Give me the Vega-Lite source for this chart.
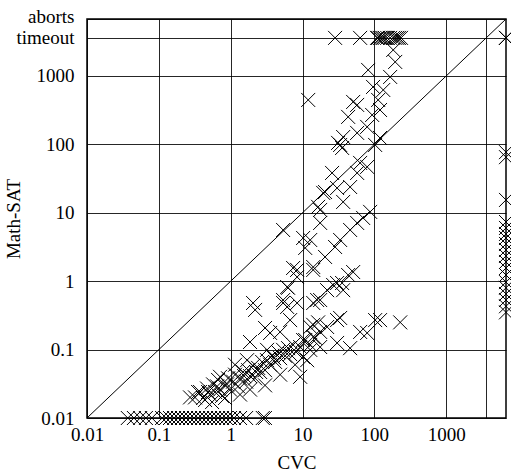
{
  "$schema": "https://vega.github.io/schema/vega-lite/v6.json",
  "autosize": {"type": "none"},
  "padding": {"left": 87, "top": 19, "right": 5, "bottom": 56},
  "width": 419,
  "height": 399,
  "background": "#ffffff",
  "config": {
    "view": {"stroke": "#000000", "strokeWidth": 1.5},
    "axis": {
      "labelFont": "Liberation Serif",
      "labelFontSize": 19,
      "labelColor": "#000000",
      "titleFont": "Liberation Serif",
      "titleFontSize": 19,
      "titleFontWeight": "normal",
      "titleColor": "#000000",
      "gridColor": "#000000",
      "gridOpacity": 0.85,
      "gridWidth": 1,
      "ticks": false,
      "domain": false,
      "labelOverlap": false,
      "labelFlush": false
    }
  },
  "datasets": {
    "diag": [{"c": 0.01, "m": 0.01}, {"c": 6800, "m": 6800}],
    "pts": [
      {"c": 28.4, "m": 3600}, {"c": 63.4, "m": 3600}, {"c": 109, "m": 3600}, {"c": 113, "m": 3600},
      {"c": 120, "m": 3600}, {"c": 126, "m": 3600}, {"c": 133, "m": 3600}, {"c": 140, "m": 3600},
      {"c": 151, "m": 3600}, {"c": 166, "m": 3600}, {"c": 183, "m": 3600}, {"c": 195, "m": 3600},
      {"c": 208, "m": 3600}, {"c": 220, "m": 3600}, {"c": 235, "m": 3600},
      {"c": 6800, "m": 3600}, {"c": 6800, "m": 3600}, {"c": 6800, "m": 3600},
      {"c": 183, "m": 2399}, {"c": 195, "m": 1603}, {"c": 82, "m": 1224}, {"c": 166, "m": 967},
      {"c": 96, "m": 691}, {"c": 133, "m": 624}, {"c": 113, "m": 446}, {"c": 12, "m": 446},
      {"c": 57.6, "m": 377}, {"c": 50.7, "m": 417}, {"c": 43.2, "m": 252}, {"c": 93.2, "m": 269},
      {"c": 120, "m": 318}, {"c": 79.4, "m": 180}, {"c": 57.6, "m": 147}, {"c": 36.8, "m": 128},
      {"c": 31.3, "m": 105}, {"c": 102.6, "m": 98}, {"c": 120, "m": 124}, {"c": 33.4, "m": 98},
      {"c": 35.6, "m": 88.6},
      {"c": 63.4, "m": 53.5}, {"c": 57.6, "m": 38.2}, {"c": 79.4, "m": 46.8}, {"c": 25.8, "m": 38.2},
      {"c": 46.0, "m": 23.8}, {"c": 20.6, "m": 20.1}, {"c": 36.8, "m": 14.4}, {"c": 16.5, "m": 12.2},
      {"c": 17.6, "m": 11.0}, {"c": 87.4, "m": 10.3}, {"c": 69.8, "m": 8.4}, {"c": 57.6, "m": 7.1},
      {"c": 46.0, "m": 5.6}, {"c": 17.6, "m": 7.1}, {"c": 5.37, "m": 5.6}, {"c": 33.4, "m": 4.0},
      {"c": 28.4, "m": 3.16}, {"c": 10.2, "m": 4.28}, {"c": 10.9, "m": 3.06}, {"c": 12.8, "m": 4.0},
      {"c": 20.6, "m": 2.26}, {"c": 14.1, "m": 1.61}, {"c": 7.4, "m": 1.56}, {"c": 43.2, "m": 1.23},
      {"c": 50.7, "m": 1.36}, {"c": 30.3, "m": 23}, {"c": 19.4, "m": 19.5},
      {"c": 8.41, "m": 1.46}, {"c": 6.11, "m": 0.82}, {"c": 5.37, "m": 0.48}, {"c": 8.41, "m": 0.48},
      {"c": 2.05, "m": 0.48}, {"c": 16.0, "m": 0.53}, {"c": 30.3, "m": 0.94}, {"c": 36.8, "m": 0.74},
      {"c": 22.0, "m": 0.74},
      {"c": 14.1, "m": 1.46}, {"c": 35.6, "m": 0.94}, {"c": 26.7, "m": 0.88}, {"c": 17.6, "m": 0.53},
      {"c": 30.3, "m": 0.27}, {"c": 33.4, "m": 0.29}, {"c": 16.5, "m": 0.25}, {"c": 14.1, "m": 0.23},
      {"c": 22.0, "m": 0.214}, {"c": 17.6, "m": 0.181}, {"c": 14.1, "m": 0.153}, {"c": 17.6, "m": 0.109},
      {"c": 12.8, "m": 0.099}, {"c": 10.2, "m": 0.078}, {"c": 11.6, "m": 0.07}, {"c": 9.27, "m": 0.04},
      {"c": 30.3, "m": 0.125}, {"c": 46.0, "m": 0.105}, {"c": 63.4, "m": 0.181}, {"c": 79.4, "m": 0.175},
      {"c": 102.6, "m": 0.27}, {"c": 120, "m": 0.27}, {"c": 229, "m": 0.25},
      {"c": 2.19, "m": 0.38}, {"c": 5.37, "m": 0.53}, {"c": 6.11, "m": 0.42}, {"c": 3.01, "m": 0.207},
      {"c": 3.54, "m": 0.175}, {"c": 4.88, "m": 0.181}, {"c": 6.72, "m": 0.27}, {"c": 1.86, "m": 0.129},
      {"c": 8.41, "m": 1.15}, {"c": 6.3, "m": 0.8}, {"c": 14.1, "m": 0.48}, {"c": 12.8, "m": 0.214},
      {"c": 10.2, "m": 0.138}, {"c": 3.21, "m": 0.099}, {"c": 1.69, "m": 0.07},
      {"c": 0.319, "m": 0.02}, {"c": 0.375, "m": 0.024}, {"c": 0.413, "m": 0.0196}, {"c": 0.469, "m": 0.027},
      {"c": 0.516, "m": 0.022}, {"c": 0.569, "m": 0.031}, {"c": 0.607, "m": 0.024}, {"c": 0.668, "m": 0.036},
      {"c": 0.711, "m": 0.026}, {"c": 0.759, "m": 0.021}, {"c": 0.835, "m": 0.03}, {"c": 0.92, "m": 0.038},
      {"c": 0.982, "m": 0.026}, {"c": 1.08, "m": 0.034}, {"c": 1.15, "m": 0.043}, {"c": 1.27, "m": 0.029},
      {"c": 1.35, "m": 0.038}, {"c": 1.49, "m": 0.047}, {"c": 1.64, "m": 0.034}, {"c": 1.75, "m": 0.05},
      {"c": 1.86, "m": 0.041}, {"c": 2.05, "m": 0.058}, {"c": 2.19, "m": 0.038}, {"c": 2.41, "m": 0.054},
      {"c": 2.57, "m": 0.047}, {"c": 2.74, "m": 0.066}, {"c": 3.01, "m": 0.05}, {"c": 3.21, "m": 0.07},
      {"c": 3.54, "m": 0.06}, {"c": 3.78, "m": 0.081}, {"c": 4.15, "m": 0.066}, {"c": 4.57, "m": 0.092},
      {"c": 4.88, "m": 0.075}, {"c": 5.37, "m": 0.099}, {"c": 5.73, "m": 0.081}, {"c": 6.3, "m": 0.105},
      {"c": 6.72, "m": 0.086}, {"c": 7.4, "m": 0.117}, {"c": 8.15, "m": 0.092}, {"c": 9.27, "m": 0.109},
      {"c": 10.9, "m": 0.138}, {"c": 12.8, "m": 0.117}, {"c": 15.0, "m": 0.148},
      {"c": 0.44, "m": 0.0183}, {"c": 0.551, "m": 0.0171}, {"c": 0.835, "m": 0.0196}, {"c": 1.35, "m": 0.022},
      {"c": 1.86, "m": 0.026}, {"c": 3.01, "m": 0.03}, {"c": 4.88, "m": 0.043}, {"c": 7.89, "m": 0.06},
      {"c": 0.711, "m": 0.04}, {"c": 1.15, "m": 0.06}, {"c": 0.272, "m": 0.02}, {"c": 0.352, "m": 0.024},
      {"c": 0.484, "m": 0.024}, {"c": 0.647, "m": 0.029}, {"c": 0.891, "m": 0.031}, {"c": 1.54, "m": 0.041},
      {"c": 2.26, "m": 0.047}, {"c": 4.02, "m": 0.075},
      {"c": 0.037, "m": 0.01}, {"c": 0.045, "m": 0.01}, {"c": 0.055, "m": 0.01}, {"c": 0.066, "m": 0.01},
      {"c": 0.08, "m": 0.01}, {"c": 0.111, "m": 0.01}, {"c": 0.126, "m": 0.01}, {"c": 0.143, "m": 0.01},
      {"c": 0.163, "m": 0.01}, {"c": 0.185, "m": 0.01}, {"c": 0.21, "m": 0.01}, {"c": 0.239, "m": 0.01},
      {"c": 0.272, "m": 0.01}, {"c": 0.309, "m": 0.01}, {"c": 0.352, "m": 0.01}, {"c": 0.4, "m": 0.01},
      {"c": 0.454, "m": 0.01}, {"c": 0.516, "m": 0.01}, {"c": 0.587, "m": 0.01}, {"c": 0.668, "m": 0.01},
      {"c": 0.759, "m": 0.01}, {"c": 0.863, "m": 0.01}, {"c": 0.98, "m": 0.01}, {"c": 1.11, "m": 0.01},
      {"c": 1.35, "m": 0.01}, {"c": 1.64, "m": 0.01}, {"c": 2.8, "m": 0.01}, {"c": 3.0, "m": 0.01},
      {"c": 6800, "m": 77}, {"c": 6800, "m": 65}, {"c": 6800, "m": 15.4}, {"c": 6800, "m": 7.33},
      {"c": 6800, "m": 6.0}, {"c": 6800, "m": 4.9}, {"c": 6800, "m": 4.28}, {"c": 6800, "m": 3.5},
      {"c": 6800, "m": 2.86}, {"c": 6800, "m": 2.34}, {"c": 6800, "m": 1.91}, {"c": 6800, "m": 1.56},
      {"c": 6800, "m": 1.23}, {"c": 6800, "m": 0.97}, {"c": 6800, "m": 0.8}, {"c": 6800, "m": 0.65},
      {"c": 6800, "m": 0.53}, {"c": 6800, "m": 0.43}, {"c": 6800, "m": 0.35}
    ]
  },
  "encoding": {
    "x": {
      "field": "c",
      "type": "quantitative",
      "title": "CVC",
      "scale": {"type": "log", "domain": [0.01, 6800], "nice": false},
      "axis": {
        "values": [0.01, 0.1, 1, 10, 100, 1000, 3600],
        "format": "~g",
        "labelExpr": "datum.value > 2000 ? '' : datum.label",
        "labelPadding": 7,
        "titlePadding": 9
      }
    },
    "y": {
      "field": "m",
      "type": "quantitative",
      "title": "Math-SAT",
      "scale": {"type": "log", "domain": [0.01, 6800], "nice": false},
      "axis": {
        "values": [0.01, 0.1, 1, 10, 100, 1000, 3600, 6800],
        "format": "~g",
        "labelExpr": "datum.value > 5000 ? 'aborts' : (datum.value > 2000 ? 'timeout' : datum.label)",
        "labelOffset": {"condition": {"test": "datum.value > 5000", "value": -3}, "value": 0},
        "labelPadding": 13,
        "titleX": -64,
        "titleY": 199.5
      }
    }
  },
  "layer": [
    {
      "data": {"name": "diag"},
      "mark": {"type": "line", "color": "#000000", "strokeWidth": 1},
      "encoding": {}
    },
    {
      "data": {"name": "pts"},
      "mark": {
        "type": "point",
        "shape": "M-1,-1L1,1M-1,1L1,-1",
        "filled": false,
        "stroke": "#000000",
        "strokeWidth": 1,
        "opacity": 1,
        "size": 196
      }
    }
  ]
}
